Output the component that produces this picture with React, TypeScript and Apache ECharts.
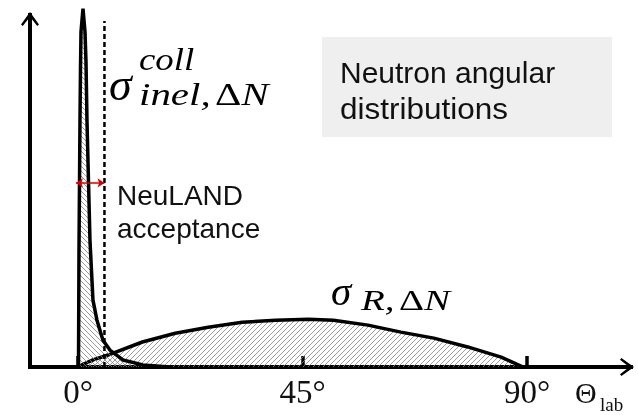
import React, { useEffect, useRef } from 'react';
import * as echarts from 'echarts';

// x: laboratory angle (degrees); y: arbitrary units (0..100 = axis height)
const xTicks = [0, 45, 90];
const peakAngles = [0.1, 0.2, 0.4, 0.5, 0.6, 1.0, 1.4, 1.6, 1.8, 2.1, 2.4, 3.0, 3.8, 5.0, 6.4, 9.0, 13.0, 18.4];
const peakValues = [0, 33.9, 70.7, 84.9, 95.3, 101.8, 95.3, 86.8, 69.9, 52.9, 35.9, 19.0, 13.3, 7.6, 4.8, 2.0, 0.6, 0];
const broadAngles = [0.4, 0.8, 3.0, 6.0, 12.9, 19.5, 26.1, 32.9, 39.6, 46.2, 51.2, 58.1, 64.7, 71.3, 78.1, 84.8, 89.2];
const broadValues = [0, 0.6, 2.0, 3.4, 7.1, 9.6, 11.3, 12.7, 13.3, 13.6, 13.3, 11.9, 9.9, 8.2, 5.7, 2.8, 0];
const acceptanceAngle = 5.3;
const acceptanceTop = 98.3;
const arrowLevel = 52.3;
const arrowFrom = -0.4;

const CHEVRON = 'path://M9,0 L18,12.6 L16.2,14 L9,4.8 L1.8,14 L0,12.6 Z';

function hatch(dir: 'fwd' | 'back', color: string, size = 5): string {
  const c = document.createElement('canvas');
  c.width = size;
  c.height = size;
  const ctx = c.getContext('2d')!;
  ctx.strokeStyle = color;
  ctx.lineWidth = 0.8;
  ctx.beginPath();
  for (const k of [-size, 0, size]) {
    if (dir === 'fwd') {
      ctx.moveTo(k, size);
      ctx.lineTo(k + size, 0);
    } else {
      ctx.moveTo(k, 0);
      ctx.lineTo(k + size, size);
    }
  }
  ctx.stroke();
  return c.toDataURL();
}

export default function App() {
  const ref = useRef<HTMLDivElement>(null);
  useEffect(() => {
    document.body.style.margin = '0';
    if (!ref.current) return;
    const chart = echarts.init(ref.current, null, { renderer: 'svg' });
    const fwd = { image: hatch('fwd', '#808080'), repeat: 'repeat', imageWidth: 5, imageHeight: 5 };
    const back = { image: hatch('back', '#808080'), repeat: 'repeat', imageWidth: 5, imageHeight: 5 };
    const axisLine = {
      show: true,
      onZero: false,
      symbol: ['none', CHEVRON],
      symbolSize: [18, 14],
      symbolOffset: [0, -4],
      lineStyle: { color: '#000', width: 4, cap: 'square' },
    };
    const serif = 'Liberation Serif';
    const sans = 'Liberation Sans';
    chart.setOption({
      animation: false,
      grid: { left: 30, right: 7, top: 15, bottom: 48 },
      xAxis: {
        type: 'value',
        min: -9.62,
        max: 110.82,
        axisLine,
        axisTick: {
          show: true,
          inside: true,
          length: 11,
          customValues: xTicks,
          lineStyle: { color: '#000', width: 3.5 },
        },
        axisLabel: {
          customValues: xTicks,
          formatter: (v: number) => `${v}°`,
          fontFamily: serif,
          fontSize: 33,
          color: '#111',
          margin: 8,
        },
        splitLine: { show: false },
      },
      yAxis: {
        type: 'value',
        min: 0,
        max: 100,
        axisLine,
        axisTick: { show: false },
        axisLabel: { show: false },
        splitLine: { show: false },
      },
      series: [
        {
          type: 'line',
          name: 'sigma_R',
          data: broadAngles.map((a, i) => [a, broadValues[i]]),
          symbol: 'none',
          clip: false,
          lineStyle: { color: '#000', width: 3.5 },
          areaStyle: { color: fwd, opacity: 1 },
          z: 2,
        },
        {
          type: 'line',
          name: 'sigma_coll',
          data: peakAngles.map((a, i) => [a, peakValues[i]]),
          symbol: 'none',
          clip: false,
          lineStyle: { color: '#000', width: 3.5 },
          areaStyle: { color: back, opacity: 1 },
          z: 3,
        },
        {
          type: 'line',
          name: 'acceptance',
          data: [[acceptanceAngle, 0], [acceptanceAngle, acceptanceTop]],
          symbol: 'none',
          clip: false,
          lineStyle: { color: '#000', width: 2.5, type: [5, 3] },
          z: 4,
          markLine: {
            silent: true,
            symbol: ['arrow', 'arrow'],
            symbolSize: 7,
            label: { show: false },
            lineStyle: { color: '#d40000', width: 1.5, type: 'solid' },
            data: [[{ coord: [arrowFrom, arrowLevel] }, { coord: [acceptanceAngle, arrowLevel] }]],
          },
        },
      ],
      graphic: [
        { type: 'rect', shape: { x: 322, y: 37, width: 290, height: 100 }, style: { fill: '#efefef' }, z: 0 },
        { type: 'text', x: 340, y: 72, style: { text: 'Neutron angular', fontSize: 30, fontFamily: sans, fill: '#111', textVerticalAlign: 'middle' } },
        { type: 'text', x: 340, y: 109, scaleX: 1.05, style: { text: 'distributions', fontSize: 30, fontFamily: sans, fill: '#111', textVerticalAlign: 'middle' } },
        { type: 'text', x: 117, y: 195, style: { text: 'NeuLAND', fontSize: 28, fontFamily: sans, fill: '#111', textVerticalAlign: 'middle' } },
        { type: 'text', x: 117, y: 228, style: { text: 'acceptance', fontSize: 28, fontFamily: sans, fill: '#111', textVerticalAlign: 'middle' } },
        { type: 'text', x: 109, y: 84, style: { text: 'σ', fontSize: 46, fontStyle: 'italic', fontFamily: serif, fill: '#000', textVerticalAlign: 'middle' } },
        { type: 'text', x: 139, y: 59, scaleX: 1.15, style: { text: 'coll', fontSize: 32, fontStyle: 'italic', fontFamily: serif, fill: '#000', textVerticalAlign: 'middle' } },
        {
          type: 'text', x: 139, y: 94, scaleX: 1.28,
          style: {
            text: '{i|inel,} {u|Δ}{i|N}', fill: '#000', textVerticalAlign: 'middle',
            rich: {
              i: { fontSize: 32, fontStyle: 'italic', fontFamily: serif, fill: '#000' },
              u: { fontSize: 32, fontFamily: serif, fill: '#000' },
            },
          },
        },
        { type: 'text', x: 331, y: 291, style: { text: 'σ', fontSize: 41, fontStyle: 'italic', fontFamily: serif, fill: '#000', textVerticalAlign: 'middle' } },
        {
          type: 'text', x: 361, y: 300, scaleX: 1.3,
          style: {
            text: '{i|R,} {u|Δ}{i|N}', fill: '#000', textVerticalAlign: 'middle',
            rich: {
              i: { fontSize: 30, fontStyle: 'italic', fontFamily: serif, fill: '#000' },
              u: { fontSize: 30, fontFamily: serif, fill: '#000' },
            },
          },
        },
        { type: 'text', x: 575, y: 392, style: { text: 'Θ', fontSize: 30, fontFamily: serif, fill: '#111', textVerticalAlign: 'middle' } },
        { type: 'text', x: 600, y: 404, style: { text: 'lab', fontSize: 19, fontFamily: serif, fill: '#111', textVerticalAlign: 'middle' } },
      ],
    });
    return () => chart.dispose();
  }, []);
  return <div ref={ref} style={{ position: 'fixed', left: 0, top: 0, width: 638, height: 415 }} />;
}
